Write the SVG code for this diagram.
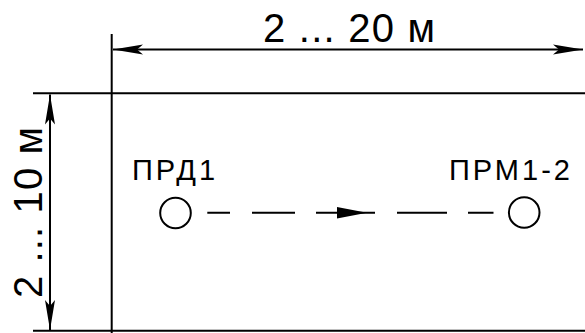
<svg xmlns="http://www.w3.org/2000/svg" width="585" height="333" viewBox="0 0 585 333">
<defs>
<style>
.ln{stroke:#000;stroke-width:2;fill:none}
.dim{stroke:#000;stroke-width:2;fill:none}
.txt{font-family:"Liberation Sans",Arial,sans-serif;fill:#000}
.lbl{font-size:29px;letter-spacing:3px}
.node{stroke:#000;stroke-width:2;fill:#fff}
</style>
<marker id="ah" viewBox="-31 -6 32 12" refX="0" refY="0" markerWidth="32" markerHeight="12" markerUnits="userSpaceOnUse" orient="auto-start-reverse">
<path d="M0,0 L-30,-5 L-24,0 L-30,5 Z" fill="#000"/>
</marker>
</defs>
<rect width="585" height="333" fill="#fff"/>
<g id="frame">
<line class="ln" x1="33" y1="93.3" x2="585" y2="93.3"/>
<line class="ln" x1="33" y1="330.7" x2="585" y2="330.7"/>
<line class="ln" x1="111.7" y1="34" x2="111.7" y2="333"/>
</g>
<g id="dimensions">
<line class="dim" x1="113" y1="49.5" x2="583" y2="49.5" marker-start="url(#ah)" marker-end="url(#ah)"/>
<text class="txt" x="263" y="41.5" font-size="40" textLength="172" lengthAdjust="spacing">2 ... 20 м</text>
<line class="dim" x1="50" y1="94.5" x2="50" y2="330" marker-start="url(#ah)" marker-end="url(#ah)"/>
<text class="txt" transform="translate(42,298) rotate(-90)" x="0" y="0" font-size="40" textLength="171" lengthAdjust="spacing">2 ... 10 м</text>
</g>
<g id="connectors">
<path class="ln" d="M207.3,212.7 H230 M252,212.7 H295 M316,212.7 H375 M397,212.7 H447 M468,212.7 H493.5"/>
<path d="M337,207 L367,212.7 L337,218.4 Z" fill="#000"/>
</g>
<g id="node-prd1">
<circle class="node" cx="175.5" cy="213" r="15.3"/>
<text class="txt lbl" x="132" y="180">ПРД1</text>
</g>
<g id="node-prm12">
<circle class="node" cx="524.2" cy="212.5" r="15.3"/>
<text class="txt lbl" x="449" y="180">ПРМ1-2</text>
</g>
</svg>
